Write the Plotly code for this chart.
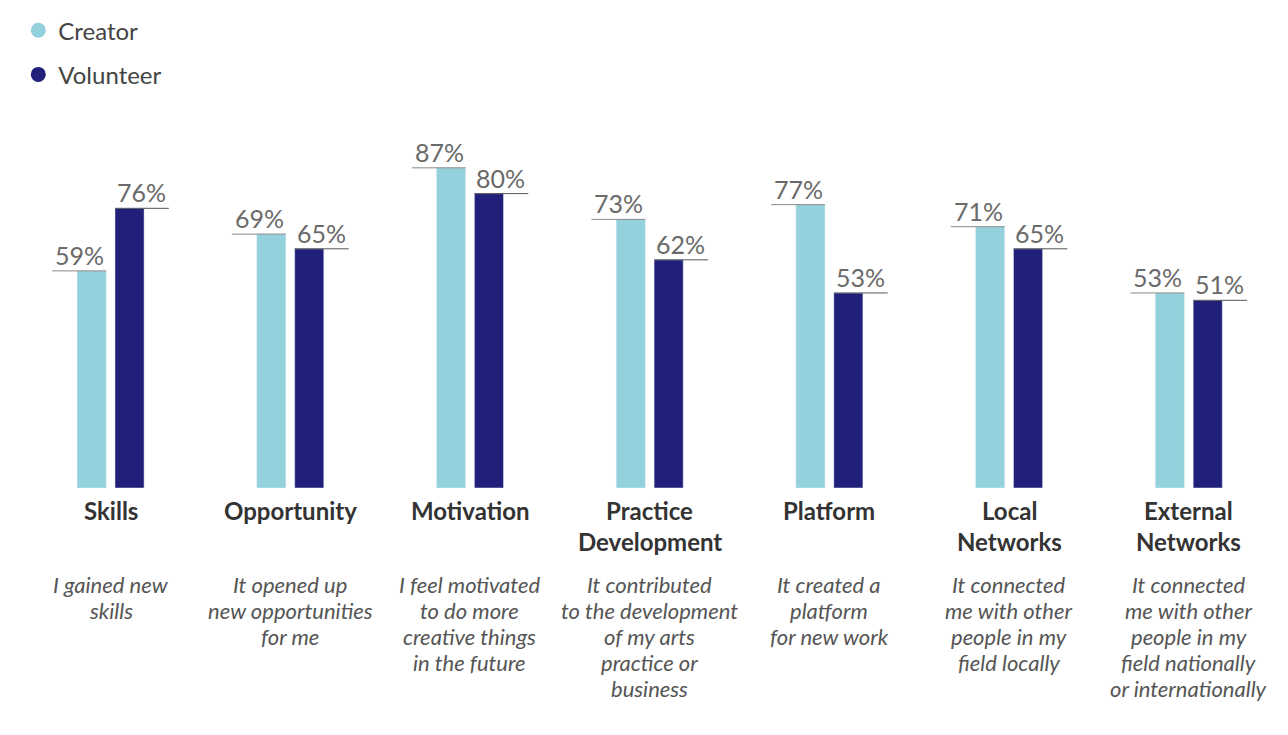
import plotly.graph_objects as go

categories = ["Skills", "Opportunity", "Motivation", "Practice<br>Development", "Platform",
              "Local<br>Networks", "External<br>Networks"]
descriptions = [
    "I gained new<br>skills",
    "It opened up<br>new opportunities<br>for me",
    "I feel motivated<br>to do more<br>creative things<br>in the future",
    "It contributed<br>to the development<br>of my arts<br>practice or<br>business",
    "It created a<br>platform<br>for new work",
    "It connected<br>me with other<br>people in my<br>field locally",
    "It connected<br>me with other<br>people in my<br>field nationally<br>or internationally",
]
creator = [59, 69, 87, 73, 77, 71, 53]
volunteer = [76, 65, 80, 62, 53, 65, 51]

C_CREATOR = "#93D2DC"
C_VOL = "#20207A"
W = 0.162
OFF_C = -0.186
OFF_V = 0.025
PX = 179.7  # pixels per x unit
X0 = 102.5  # pixel of first group centre

idx = list(range(len(categories)))
fig = go.Figure()
fig.add_trace(go.Bar(x=idx, y=creator, width=W, offset=OFF_C, marker_color=C_CREATOR,
                     showlegend=False, name="Creator"))
fig.add_trace(go.Bar(x=idx, y=volunteer, width=W, offset=OFF_V, marker_color=C_VOL,
                     showlegend=False, name="Volunteer"))
# legend entries
fig.add_trace(go.Scatter(x=[None], y=[None], mode="markers", name="Creator", legendgroup="c",
                         marker=dict(color=C_CREATOR, size=15, symbol="circle")))
fig.add_trace(go.Scatter(x=[None], y=[None], mode="markers", name="Volunteer", legendgroup="v",
                         marker=dict(color=C_VOL, size=15, symbol="circle")))

ann = []
shapes = []
LINE_LEN = 0.30
FONT = "Lato, 'Open Sans', sans-serif"
pct_font = dict(family=FONT, size=25, color="#6a6a6a")
for i in idx:
    cr = i + OFF_C + W
    ann.append(dict(x=cr, y=creator[i], xref="x", yref="y", text=f"{creator[i]}%",
                    xanchor="right", yanchor="bottom", showarrow=False, font=pct_font,
                    yshift=-1))
    shapes.append(dict(type="line", xref="x", yref="y", x0=cr - LINE_LEN, x1=cr,
                       y0=creator[i], y1=creator[i], line=dict(color="#888", width=1)))
    vl = i + OFF_V
    ann.append(dict(x=vl, y=volunteer[i], xref="x", yref="y", text=f"{volunteer[i]}%",
                    xanchor="left", yanchor="bottom", showarrow=False, font=pct_font,
                    yshift=-1))
    shapes.append(dict(type="line", xref="x", yref="y", x0=vl, x1=vl + LINE_LEN,
                       y0=volunteer[i], y1=volunteer[i], line=dict(color="#555", width=1)))
    for k, line in enumerate(categories[i].split("<br>")):
        ann.append(dict(x=i, y=0, xref="x", yref="paper", text=f"<b>{line}</b>",
                        xanchor="center", yanchor="middle", showarrow=False,
                        yshift=-(22 + 31 * k),
                        font=dict(family=FONT, size=24, color="#333")))
    for k, line in enumerate(descriptions[i].split("<br>")):
        ann.append(dict(x=i, y=0, xref="x", yref="paper", text=f"<i>{line}</i>",
                        xanchor="center", yanchor="middle", showarrow=False,
                        yshift=-(96 + 26 * k),
                        font=dict(family=FONT, size=22, color="#555")))

fig.update_layout(
    width=1288, height=735,
    margin=dict(l=0, r=0, t=110, b=255),
    paper_bgcolor="white", plot_bgcolor="white",
    barmode="overlay",
    xaxis=dict(range=[-X0 / PX, (1288 - X0) / PX], visible=False),
    yaxis=dict(range=[0, 100], visible=False),
    annotations=ann, shapes=shapes,
    legend=dict(x=0.008, y=1.304, xanchor="left", yanchor="top", tracegroupgap=10,
                font=dict(family=FONT, size=24, color="#444"),
                bgcolor="rgba(0,0,0,0)"),
    showlegend=True,
)
fig.write_html("out.html")
